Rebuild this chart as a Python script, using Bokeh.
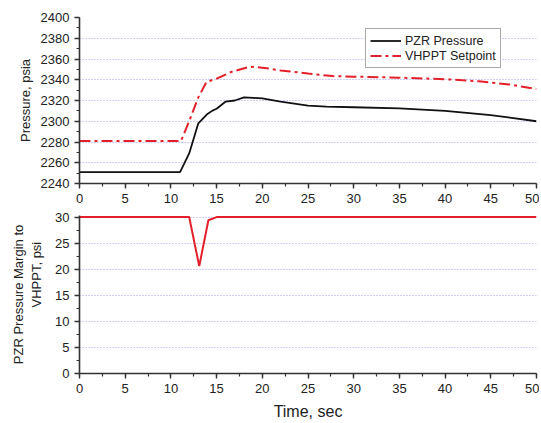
from bokeh.plotting import figure
from bokeh.models import Range1d, SingleIntervalTicker, Legend, LegendItem
from bokeh.layouts import column
from bokeh.embed import file_html
from bokeh.resources import INLINE

# ---- data ----
time_p = [0, 11, 12, 13, 14, 14.5, 15, 16, 17, 18, 19, 20, 22, 25, 27, 30, 35, 40, 45, 50]
pzr_pressure = [2251, 2251, 2269, 2298, 2307, 2310, 2312, 2319, 2320, 2323, 2322.5, 2322,
                2319, 2315, 2314, 2313.5, 2312.5, 2310, 2306, 2300]

time_s = [0, 11.1, 12, 13, 13.9, 15, 16.6, 18.4, 19.2, 20.5, 22, 25, 27.7, 30, 35, 40, 43.7, 47, 50]
vhppt_setpoint = [2281, 2281, 2300, 2323, 2338, 2341, 2347.5, 2352, 2352.5, 2351, 2349, 2346,
                  2343.5, 2343, 2342, 2340.5, 2338.5, 2335.5, 2331]

time_m = [0, 12, 13.1, 14.1, 15, 50]
margin = [30, 30, 20.6, 29.4, 30, 30]

FONT = "Liberation Sans"
TXT = "#222222"
GRID = "#9494f0"


def style(p, ytick_interval):
    p.outline_line_color = None
    p.background_fill_color = "white"
    p.xgrid.grid_line_color = None
    p.ygrid.grid_line_color = GRID
    p.ygrid.grid_line_dash = "1 2"
    p.ygrid.grid_line_width = 1
    p.ygrid.grid_line_alpha = 0.9
    p.xaxis.ticker = SingleIntervalTicker(interval=5, num_minor_ticks=2)
    p.yaxis.ticker = SingleIntervalTicker(interval=ytick_interval, num_minor_ticks=2)
    p.ygrid.ticker = SingleIntervalTicker(interval=ytick_interval)
    for ax in (p.xaxis, p.yaxis):
        ax.axis_line_color = "#333333"
        ax.axis_line_width = 1.6
        ax.major_tick_line_color = "#333333"
        ax.major_tick_line_width = 1.4
        ax.minor_tick_line_color = "#333333"
        ax.minor_tick_line_width = 1.2
        ax.major_tick_out = 5
        ax.major_tick_in = 0
        ax.minor_tick_out = 3
        ax.minor_tick_in = 0
        ax.major_label_text_font = FONT
        ax.major_label_text_font_size = "13px"
        ax.major_label_text_color = TXT
        ax.axis_label_text_font = FONT
        ax.axis_label_text_font_style = "normal"
        ax.axis_label_text_color = TXT


# ---- top panel ----
p1 = figure(width=539, height=208, frame_width=457, frame_height=166,
            min_border_left=79, min_border_right=3, min_border_top=17, min_border_bottom=25,
            output_backend="svg", toolbar_location=None,
            x_range=Range1d(0, 50), y_range=Range1d(2240, 2400))
style(p1, 20)
p1.yaxis.axis_label = "Pressure, psia"
p1.yaxis.axis_label_text_font_size = "13px"

r_p = p1.line(time_p, pzr_pressure, line_color="#111111", line_width=1.8)
r_s = p1.line(time_s, vhppt_setpoint, line_color="#e3202a", line_width=2,
              line_dash="11 4 3 4")

legend = Legend(items=[LegendItem(label="PZR Pressure", renderers=[r_p]),
                       LegendItem(label="VHPPT Setpoint", renderers=[r_s])],
                location=(286, 115))
legend.label_text_font = FONT
legend.label_text_font_size = "12.5px"
legend.label_text_color = TXT
legend.glyph_width = 31
legend.glyph_height = 15
legend.label_height = 15
legend.label_standoff = 4
legend.spacing = 0
legend.padding = 4
legend.margin = 0
legend.border_line_color = "#555555"
legend.border_line_width = 1
legend.background_fill_alpha = 1
p1.add_layout(legend, "center")

# ---- bottom panel ----
p2 = figure(width=539, height=210, frame_width=457, frame_height=158,
            min_border_left=79, min_border_right=3, min_border_top=7, min_border_bottom=45,
            output_backend="svg", toolbar_location=None,
            x_range=Range1d(0, 50), y_range=Range1d(0, 30.3))
style(p2, 5)
p2.yaxis.axis_label = "PZR Pressure Margin to\n" + "\u00a0" * 11 + "VHPPT, psi"
p2.yaxis.axis_label_text_font_size = "13px"
p2.yaxis.axis_label_standoff = 8
p2.xaxis.axis_label = "Time, sec"
p2.xaxis.axis_label_text_font_size = "16px"
p2.xaxis.axis_label_standoff = 7

p2.line(time_m, margin, line_color="#e3202a", line_width=2)

layout = column(p1, p2, spacing=0)
open("out.html", "w").write(file_html(layout, INLINE))
